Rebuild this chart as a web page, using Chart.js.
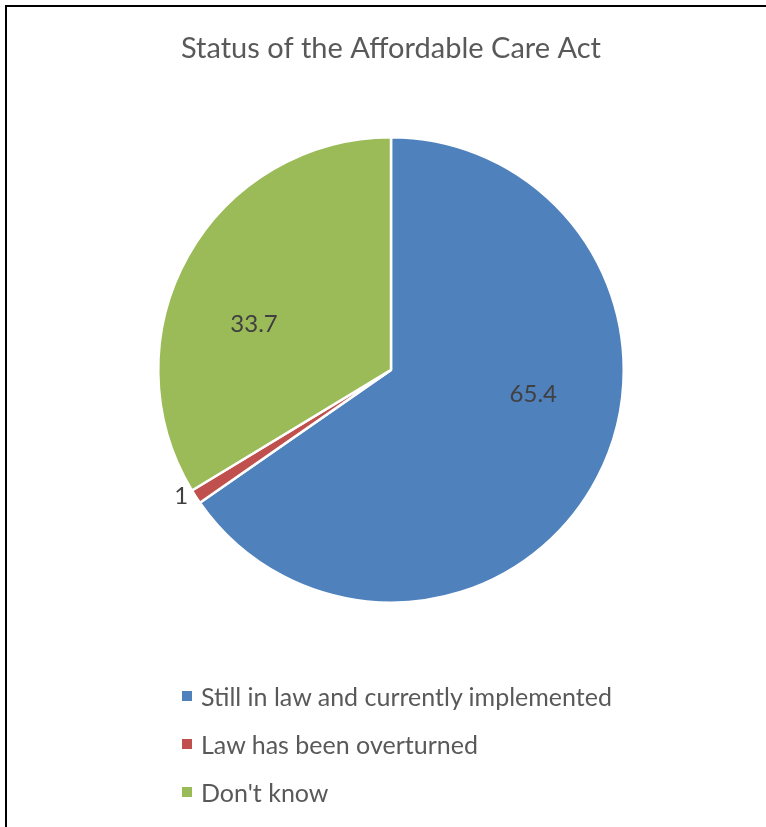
<!DOCTYPE html>
<html>
<head>
<meta charset="utf-8">
<script src="https://cdn.jsdelivr.net/npm/chart.js@4/dist/chart.umd.min.js"></script>
<style>
  html, body { margin: 0; padding: 0; background: #fff; }
  body { width: 766px; height: 827px; overflow: hidden; position: relative; font-family: Lato, sans-serif; }
  .frame { position: absolute; left: 5px; top: 5px; width: 800px; height: 900px;
           border-top: 2px solid #000; border-left: 2px solid #000; }
  #wrap { position: absolute; left: 0; top: 0; width: 766px; height: 827px; }
  #legend { position: absolute; left: 182px; top: 672px; list-style: none; margin: 0; padding: 0; }
  #legend li { height: 48px; display: flex; align-items: center; color: #595959; font-size: 25px; }
  #legend span.box { width: 10px; height: 10px; margin-right: 9px; display: inline-block; }
</style>
</head>
<body>
<div class="frame"></div>
<div id="wrap"><canvas id="myChart" width="766" height="827"></canvas></div>
<ul id="legend"></ul>
<script>
// Pie data
const labels = ['Still in law and currently implemented', 'Law has been overturned', "Don't know"]
const values = [65.4, 1, 33.7]
const colors = ['#4F81BD', '#C0504D', '#9BBB59']

// draws the value of each slice, inside or just outside the arc
const sliceLabels = {
  id: 'sliceLabels',
  afterDatasetsDraw (chart, args, opts) {
    const ctx = chart.ctx
    const meta = chart.getDatasetMeta(0)
    ctx.save()
    ctx.font = opts.font
    ctx.fillStyle = opts.color
    ctx.textAlign = 'center'
    ctx.textBaseline = 'middle'
    meta.data.forEach((arc, i) => {
      const p = arc.getProps(['x', 'y', 'startAngle', 'endAngle', 'outerRadius'], true)
      const place = opts.place[i]
      const angle = (p.startAngle + p.endAngle) / 2 + place.shift * Math.PI / 180
      const dist = place.outside ? p.outerRadius + place.gap : p.outerRadius * place.frac
      ctx.fillText(String(values[i]), p.x + Math.cos(angle) * dist, p.y + Math.sin(angle) * dist)
    })
    ctx.restore()
  }
}

const ctx = document.getElementById('myChart')
const chart = new Chart(ctx, {
  type: 'pie',
  data: {
    labels,
    datasets: [{
      data: values,
      backgroundColor: colors,
      borderColor: '#ffffff',
      borderWidth: 2.5
    }]
  },
  options: {
    responsive: false,
    animation: false,
    layout: { padding: { top: 0, bottom: 223, left: 157, right: 141 } },
    plugins: {
      legend: { display: false },
      tooltip: { enabled: false },
      title: {
        display: true,
        text: 'Status of the Affordable Care Act',
        color: '#595959',
        font: { family: 'Lato', size: 29, weight: 'normal' },
        padding: { top: 31, bottom: 70 }
      },
      sliceLabels: {
        font: '24px Lato',
        color: '#404040',
        place: [
          { frac: 0.62, shift: -18 },
          { outside: true, gap: 12, shift: 2 },
          { frac: 0.62, shift: -11 }
        ]
      }
    }
  },
  plugins: [sliceLabels]
})

// legend, one item per row, built from the chart's own legend items
const list = document.getElementById('legend')
chart.options.plugins.legend.labels.generateLabels(chart).forEach(item => {
  const li = document.createElement('li')
  const box = document.createElement('span')
  box.className = 'box'
  box.style.background = item.fillStyle
  li.appendChild(box)
  li.appendChild(document.createTextNode(item.text))
  list.appendChild(li)
})
</script>
</body>
</html>
